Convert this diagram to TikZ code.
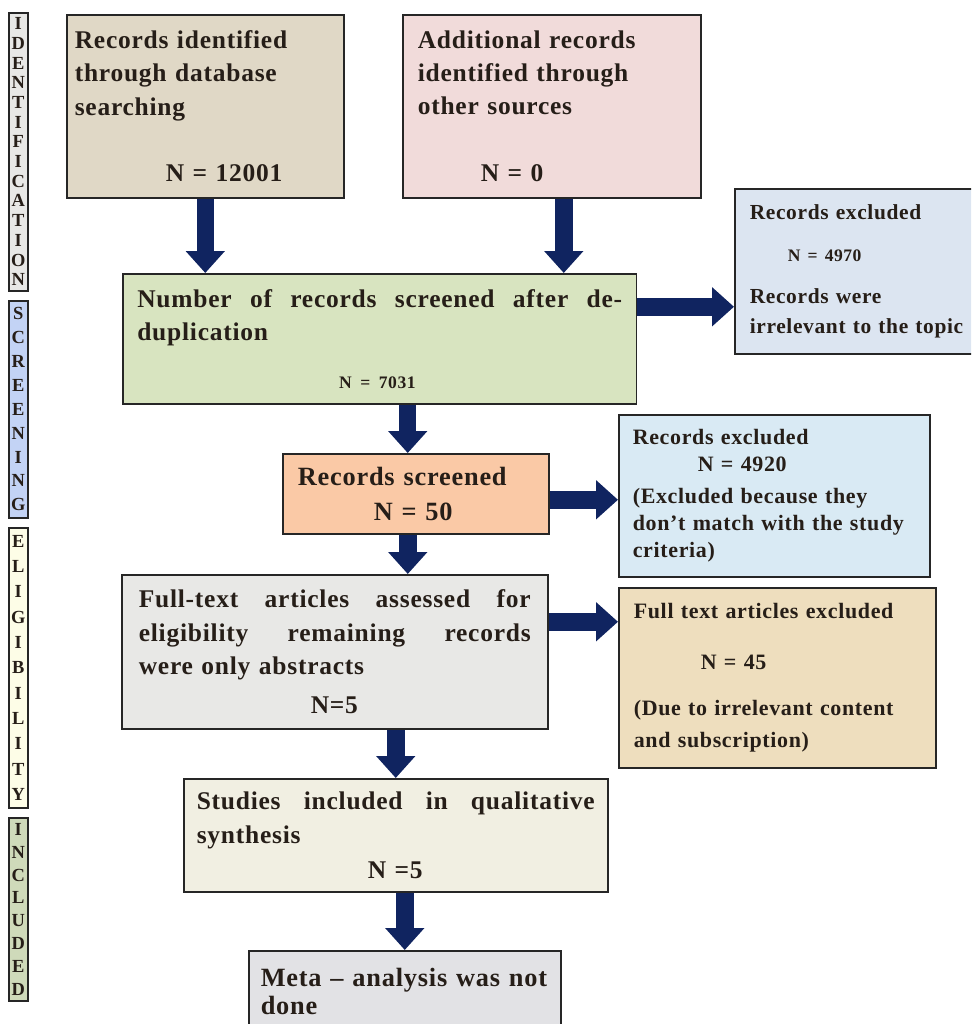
\documentclass[tikz,border=0pt]{standalone}
\usepackage{fontspec}
\setmainfont{Liberation Serif}[LetterSpace=3]
\usepackage{tikz}
\usetikzlibrary{arrows.meta,positioning,calc}
\definecolor{marino}{RGB}{16,36,96}
\definecolor{tinta}{RGB}{38,30,24}
\definecolor{piedra}{RGB}{224,216,198}
\definecolor{rosado}{RGB}{241,219,218}
\definecolor{verde}{RGB}{216,228,192}
\definecolor{celeste}{RGB}{220,229,241}
\definecolor{durazno}{RGB}{250,201,166}
\definecolor{cielo}{RGB}{217,234,244}
\definecolor{gris}{RGB}{232,232,230}
\definecolor{arena}{RGB}{238,222,190}
\definecolor{crema}{RGB}{241,239,226}
\definecolor{marmol}{RGB}{226,226,229}
\newcommand{\linea}[2]{\leavevmode\hbox to #1{#2}}

\begin{document}
\begin{tikzpicture}[x=0.02cm,y=-0.02cm,
  caja/.style={draw=black!85,line width=0.9pt,anchor=north west,align=left,inner ysep=0pt,text=tinta,
    font=\bfseries\fontsize{14.5}{19}\selectfont},
  lado/.style={draw=black!85,line width=0.9pt,anchor=north west,align=center,inner sep=0pt,text=tinta,minimum width=0.38cm},
  flecha/.style={draw=marino,line width=0.35cm,-{Triangle[length=0.44cm,width=0.76cm]}}]
\useasboundingbox (0,0) rectangle (971,1024);
\clip (0,0) rectangle (971,1024);
% phases
\node[lado,fill=gris,minimum height=5.56cm,font=\bfseries\fontsize{10.5}{11.2}\selectfont] (fase1) at (8,12)
{I\\D\\E\\N\\T\\I\\F\\I\\C\\A\\T\\I\\O\\N};
\node[lado,fill=cielo!90!blue,minimum height=4.34cm,font=\bfseries\fontsize{10.5}{13.6}\selectfont] (fase2) at (8,300)
{S\\C\\R\\E\\E\\N\\I\\N\\G};
\node[lado,fill=crema!60!yellow!20,minimum height=5.6cm,font=\bfseries\fontsize{10.5}{14.4}\selectfont] (fase3) at (8,527)
{E\\L\\I\\G\\I\\B\\I\\L\\I\\T\\Y};
\node[lado,fill=verde!90!gray,minimum height=3.66cm,font=\bfseries\fontsize{10.5}{13}\selectfont] (fase4) at (8,817)
{I\\N\\C\\L\\U\\D\\E\\D};
% boxes
\node[caja,fill=piedra,minimum width=5.54cm,minimum height=3.66cm,text width=5.22cm] (bases) at (66,14)
{Records identified\\through database\\searching\\[19pt]\hspace*{1.82cm}N = 12001};
\node[caja,fill=rosado,minimum width=5.96cm,minimum height=3.66cm,text width=5.36cm] (otras) at (402,14)
{Additional records\\identified through\\other sources\\[19pt]\hspace*{1.26cm}N = 0};
\node[caja,fill=verde,minimum width=10.28cm,minimum height=2.6cm,text width=9.7cm] (cribado) at (122,273)
{\linea{9.7cm}{Number\hfill of\hfill records\hfill screened\hfill after\hfill de-}\\duplication\\[8pt]{\fontsize{10}{12}\selectfont\hspace*{4.04cm}N = 7031}};
\node[caja,fill=celeste,minimum width=5.9cm,minimum height=3.3cm,text width=5.3cm,
  font=\bfseries\fontsize{12.2}{17}\selectfont] (excluidos) at (734,188)
{Records excluded\\[7pt]{\fontsize{10}{12}\selectfont\hspace*{0.76cm}N = 4970}\\[7pt]Records were\\irrelevant to the topic};
\node[caja,fill=durazno,minimum width=5.32cm,minimum height=1.6cm,text width=4.72cm,
  font=\bfseries\fontsize{15}{20}\selectfont] (revisados) at (282,453)
{Records screened\\\hspace*{1.52cm}N = 50};
\node[caja,fill=cielo,minimum width=6.22cm,minimum height=3.24cm,text width=5.66cm,
  font=\bfseries\fontsize{12.5}{15.3}\selectfont] (descarte) at (618,414)
{Records excluded\\\hspace*{1.3cm}N = 4920\\[3pt](Excluded because they\\don’t match with the study\\criteria)};
\node[caja,fill=gris,minimum width=8.52cm,minimum height=3.08cm,text width=7.84cm] (texto) at (121,574)
{\linea{7.84cm}{Full-text\hfill articles\hfill assessed\hfill for}\\\linea{7.84cm}{eligibility\hfill remaining\hfill records}\\were only abstracts\\[3pt]\hspace*{3.44cm}N=5};
\node[caja,fill=arena,minimum width=6.34cm,minimum height=3.6cm,text width=5.74cm,
  font=\bfseries\fontsize{12.5}{18}\selectfont] (sinacceso) at (618,587)
{Full text articles excluded\\[11pt]\hspace*{1.34cm}N = 45\\[8pt](Due to irrelevant content\\and subscription)};
\node[caja,fill=crema,minimum width=8.48cm,minimum height=2.26cm,text width=7.96cm] (incluidos) at (183,778)
{\linea{7.96cm}{Studies\hfill included\hfill in\hfill qualitative}\\synthesis\\[1pt]\hspace*{3.42cm}N =5};
\node[caja,fill=marmol,minimum width=6.24cm,minimum height=1.62cm,text width=5.76cm,
  font=\bfseries\fontsize{15}{16}\selectfont] (meta) at (248,950)
{Meta – analysis was not\\done};
% arrows
\draw[flecha] (bases.south) -- (bases.south |- cribado.north);
\draw[flecha] ([xshift=0.24cm]otras.south) -- ([xshift=0.24cm]otras.south |- cribado.north);
\draw[flecha] ([yshift=0.64cm]cribado.east) -- ([yshift=0.64cm]cribado.east -| excluidos.west);
\draw[flecha] ([xshift=0.56cm]cribado.south) -- ([xshift=0.56cm]cribado.south |- revisados.north);
\draw[flecha] ([yshift=-0.12cm]revisados.east) -- ([yshift=-0.12cm]revisados.east -| descarte.west);
\draw[flecha] ([xshift=-0.16cm]revisados.south) -- ([xshift=-0.16cm]revisados.south |- texto.north);
\draw[flecha] ([yshift=0.6cm]texto.east) -- ([yshift=0.6cm]texto.east -| sinacceso.west);
\draw[flecha] (texto.south -| incluidos.north) -- (incluidos.north);
\draw[flecha] (incluidos.south -| meta.north) -- (meta.north);
\end{tikzpicture}
\end{document}
